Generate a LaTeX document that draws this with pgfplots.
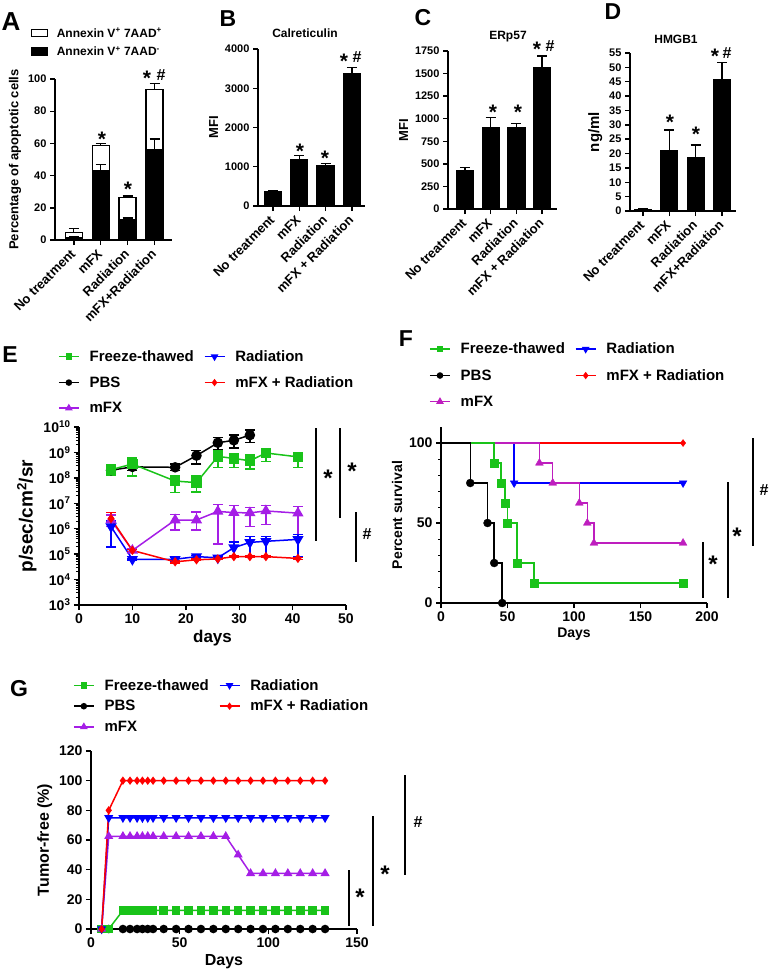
\documentclass[border=0pt]{standalone}
\usepackage{fontspec}
\setmainfont{Liberation Sans}
\usepackage{pgfplots}
\pgfplotsset{compat=1.18}
\definecolor{gpgreen}{RGB}{25,195,25}
\definecolor{gppurp}{RGB}{165,30,230}
\definecolor{gpmag}{RGB}{190,30,190}
\definecolor{gpblue}{RGB}{0,0,255}
\definecolor{gpred}{RGB}{255,0,0}
\newcommand{\fs}[1]{\fontsize{#1}{#1}\selectfont\bfseries}
\pgfplotsset{
 gp/.style={scale only axis, anchor=south west, axis x line*=bottom, axis y line*=left,
   tick align=outside, axis line style={line width=1.5pt},
   major tick style={line width=1.4pt, black}, minor tick style={line width=1pt, black},
   major tick length=5pt, minor tick length=3pt,
   /pgf/number format/assume math mode=true, /pgf/number format/1000 sep={},
   clip=false, tick label style={font=\fs{11}}, label style={font=\fs{13}}},
 bars/.style={gp, ybar, bar width=17pt, xtick={1,2,3,4}, ymin=0,
   xticklabel shift=6pt,
   xticklabel style={rotate=45, anchor=east, font=\fs{13}, inner sep=1pt},
   error bars/y dir=plus, error bars/y explicit,
   error bars/error bar style={line width=1.3pt, black},
   error bars/error mark options={rotate=90, mark size=5pt, line width=1.3pt, black}},
 lines/.style={gp, tick label style={font=\fs{14}},
   legend columns=2, legend cell align=left,
   legend image code/.code={\draw[mark repeat=2, mark phase=2, ##1] plot coordinates {(0pt,0pt) (10pt,0pt) (20pt,0pt)};},
   legend style={draw=none, fill=none, font=\fs{15}, inner sep=0pt, nodes={inner sep=2pt},
     /tikz/every even column/.append style={column sep=8pt},
     /tikz/every odd column/.append style={column sep=8pt}},
   error bars/error bar style={line width=1.4pt},
   error bars/error mark options={rotate=90, mark size=5pt, line width=1.4pt}},
}
\tikzset{star/.style={font=\fs{21}, inner sep=0pt, yshift=-4.5pt},
  hash/.style={font=\fs{16}, inner sep=0pt},
  panel/.style={font=\fs{23}, inner sep=0pt}}
\begin{document}
\begin{tikzpicture}
\path[use as bounding box] (0pt,0pt) rectangle (769pt,-975pt);

% ---------------- A
\begin{axis}[bars, at={(55pt,-240pt)}, width=117pt, height=161pt,
  xmin=0.3, xmax=4.65, ymax=100, ytick={0,20,...,100},
  xticklabels={No treatment, mFX, Radiation, mFX+Radiation},
  ylabel={Percentage of apoptotic cells},
  legend cell align=left,
  legend style={at={(-0.21,1.33)}, anchor=north west, draw=none, fill=none, font=\fs{12}, row sep=4pt, inner sep=0pt, nodes={inner sep=2pt},
    /tikz/every odd column/.append style={column sep=7pt}}]
\addlegendimage{legend image code/.code={\draw[draw=black, fill=white, line width=1.2pt] (0pt,-3.5pt) rectangle (16pt,4pt);}}
\addlegendentry{Annexin V\textsuperscript{+} 7AAD\textsuperscript{+}}
\addlegendimage{legend image code/.code={\draw[draw=black, fill=black, line width=1.2pt] (0pt,-3.5pt) rectangle (16pt,4pt);}}
\addlegendentry{Annexin V\textsuperscript{+} 7AAD\textsuperscript{-}}
\addplot[fill=white, draw=black, line width=1.3pt, bar shift=0pt, forget plot] coordinates
  {(1,4.5) +- (0,2.8) (2,58.6) +- (0,1.5) (3,26.4) +- (0,1) (4,93.6) +- (0,3.6)};
\addplot[fill=black, draw=black, line width=1.3pt, bar shift=0pt, forget plot] coordinates
  {(1,1.2) +- (0,0.6) (2,43) +- (0,4) (3,12.6) +- (0,1) (4,56.3) +- (0,6.4)};
\end{axis}

% ---------------- B
\begin{axis}[bars, at={(258pt,-206pt)}, width=107pt, height=157pt,
  xmin=0.43, xmax=4.5, ymax=4000, ytick={0,1000,...,4000},
  xticklabels={No treatment, mFX, Radiation, mFX + Radiation},
  ylabel={MFI}]
\addplot[fill=black, draw=black, line width=1.3pt, bar shift=0pt] coordinates
  {(1,360) +- (0,40) (2,1190) +- (0,100) (3,1020) +- (0,65) (4,3365) +- (0,170)};
\end{axis}

% ---------------- C
\begin{axis}[bars, at={(448pt,-209pt)}, width=109pt, height=158pt,
  xmin=0.34, xmax=4.58, ymax=1750, ytick={0,250,...,1750},
  xticklabels={No treatment, mFX, Radiation, mFX + Radiation},
  ylabel={MFI}]
\addplot[fill=black, draw=black, line width=1.3pt, bar shift=0pt] coordinates
  {(1,420) +- (0,38) (2,900) +- (0,115) (3,905) +- (0,45) (4,1565) +- (0,130)};
\end{axis}

% ---------------- D
\begin{axis}[bars, at={(630pt,-211pt)}, width=106pt, height=158pt,
  xmin=0.51, xmax=4.53, ymax=55, ytick={0,5,...,55},
  xticklabels={No treatment, mFX, Radiation, mFX+Radiation},
  ylabel={ng/ml}, ylabel style={font=\fs{15}}]
\addplot[fill=black, draw=black, line width=1.3pt, bar shift=0pt] coordinates
  {(1,0.6) +- (0,0.15) (2,21) +- (0,7.2) (3,18.7) +- (0,4.3) (4,45.8) +- (0,5.9)};
\end{axis}

% ---------------- E
\begin{axis}[lines, at={(79pt,-605pt)}, width=267pt, height=178pt,
  ymode=log, ymin=1e3, ymax=1e10, xmin=0, xmax=50, xtick={0,10,...,50},
  ytick={1e3,1e4,1e5,1e6,1e7,1e8,1e9,1e10},
  yticklabels={10\textsuperscript{3},10\textsuperscript{4},10\textsuperscript{5},10\textsuperscript{6},10\textsuperscript{7},10\textsuperscript{8},10\textsuperscript{9},10\textsuperscript{10}},
  xlabel={days}, ylabel={p/sec/cm\textsuperscript{2}/sr},
  xlabel style={font=\fs{17}}, ylabel style={font=\fs{19}},
  legend style={at={(-0.079,1.442)}, anchor=north west, row sep=9.5pt},
  error bars/y dir=both, error bars/y explicit]
\addlegendimage{gpgreen, line width=1.5pt, mark=square*, mark size=2.5pt}
\addlegendentry{Freeze-thawed}
\addlegendimage{gpblue, line width=1.5pt, mark=triangle*, mark size=3pt, mark options={rotate=180}}
\addlegendentry{Radiation}
\addlegendimage{black, line width=1.5pt, mark=*, mark size=2.5pt}
\addlegendentry{PBS}
\addlegendimage{gpred, line width=1.5pt, mark=diamond*, mark size=2.5pt}
\addlegendentry{mFX + Radiation}
\addlegendimage{gppurp, line width=1.5pt, mark=triangle*, mark size=3pt}
\addlegendentry{mFX}
\addplot[black, line width=1.5pt, mark=*, mark size=4.5pt, forget plot] table[x=d, y=v, y error plus=ep, y error minus=em] {
d v ep em
6 2e8 0.5e8 0.5e8
10 2.7e8 1e8 0.8e8
18 2.6e8 0.9e8 0.6e8
22 7.5e8 4.5e8 4e8
26 2.4e9 1.5e9 1.1e9
29 3e9 1.8e9 1.5e9
32 4.8e9 2.7e9 2.3e9
};
\addplot[gpgreen, line width=1.5pt, mark=square*, mark size=4.5pt, forget plot] table[x=d, y=v, y error plus=ep, y error minus=em] {
d v ep em
6 2.1e8 0.7e8 0.8e8
10 3.5e8 2.5e8 2.3e8
18 7.5e7 4.5e7 4.9e7
22 6.5e7 5.5e7 3.7e7
26 7e8 5e8 4.5e8
29 5.8e8 3.2e8 3.3e8
32 4.7e8 3.3e8 2.5e8
35 9.5e8 3.5e8 5e8
41 6.7e8 2.8e8 4.2e8
};
\addplot[gppurp, line width=1.5pt, mark=triangle*, mark size=5pt, forget plot] table[x=d, y=v, y error plus=ep, y error minus=em] {
d v ep em
6 2.2e6 1.3e6 1e6
10 1.4e5 0.2e5 0.2e5
18 2.2e6 1.4e6 1.3e6
22 2.2e6 2.3e6 1.3e6
26 4.8e6 4.2e6 4.55e6
29 4.3e6 3.7e6 4e6
32 4.2e6 2.8e6 3e6
35 5e6 3e6 3.5e6
41 4.1e6 3.4e6 3.6e6
};
\addplot[gpblue, line width=1.5pt, mark=triangle*, mark size=5pt, mark options={rotate=180}, forget plot] table[x=d, y=v, y error plus=ep, y error minus=em] {
d v ep em
6 1.2e6 0.8e6 1.01e6
10 6.3e4 0.5e4 0.5e4
18 6.3e4 1.5e4 1e4
22 8e4 1e4 1e4
26 7.2e4 1e4 1e4
29 1.8e5 1.2e5 1e5
32 2.9e5 2e5 2.1e5
35 3.2e5 1.8e5 2.4e5
41 3.8e5 2e5 3e5
};
\addplot[gpred, line width=1.5pt, mark=diamond*, mark size=3.5pt, forget plot] table[x=d, y=v, y error plus=ep, y error minus=em] {
d v ep em
6 2.5e6 1.8e6 1e6
10 1.4e5 0.1e5 0.1e5
18 5e4 0.5e4 0.5e4
22 6e4 0.5e4 0.5e4
26 6.5e4 0.5e4 0.5e4
29 8e4 0.5e4 0.5e4
32 8e4 0.5e4 0.5e4
35 8e4 0.5e4 0.5e4
41 6.8e4 0.5e4 0.5e4
};
\end{axis}

% ---------------- F
\begin{axis}[lines, at={(441pt,-603pt)}, width=266pt, height=176pt,
  xmin=0, xmax=200, ymin=0, ymax=110, xtick={0,50,...,200}, ytick={0,50,100},
  minor y tick num=4, xlabel={Days}, ylabel={Percent survival},
  label style={font=\fs{14}},
  legend style={at={(-0.045,1.49)}, anchor=north west, row sep=10pt}]
\addlegendimage{gpgreen, line width=1.5pt, mark=square*, mark size=2.5pt}
\addlegendentry{Freeze-thawed}
\addlegendimage{gpblue, line width=1.5pt, mark=triangle*, mark size=3pt, mark options={rotate=180}}
\addlegendentry{Radiation}
\addlegendimage{black, line width=1.5pt, mark=*, mark size=2.5pt}
\addlegendentry{PBS}
\addlegendimage{gpred, line width=1.5pt, mark=diamond*, mark size=2.5pt}
\addlegendentry{mFX + Radiation}
\addlegendimage{gpmag, line width=1.5pt, mark=triangle*, mark size=3pt}
\addlegendentry{mFX}
\addplot[gpred, line width=1.5pt, const plot, forget plot] coordinates {(0,100) (182,100)};
\addplot[gpred, only marks, mark=diamond*, mark size=3.5pt, forget plot] coordinates {(182,100)};
\addplot[gpblue, line width=1.5pt, const plot, forget plot] coordinates {(0,100) (55,75) (182,75)};
\addplot[gpblue, only marks, mark=triangle*, mark size=4.5pt, mark options={rotate=180}, forget plot] coordinates {(55,75) (182,75)};
\addplot[gpmag, line width=1.5pt, const plot, forget plot] coordinates {(0,100) (74,87.5) (84,75) (104,62.5) (110,50) (115,37.5) (182,37.5)};
\addplot[gpmag, only marks, mark=triangle*, mark size=4.5pt, forget plot] coordinates {(74,87.5) (84,75) (104,62.5) (110,50) (115,37.5) (182,37.5)};
\addplot[gpgreen, line width=1.5pt, const plot, forget plot] coordinates {(0,100) (40,87.5) (45,75) (48,62.5) (50,50) (57,25) (70,12.5) (182,12.5)};
\addplot[gpgreen, only marks, mark=square*, mark size=4pt, forget plot] coordinates {(40,87.5) (45,75) (48,62.5) (50,50) (57,25) (70,12.5) (182,12.5)};
\addplot[black, line width=1.5pt, const plot, forget plot] coordinates {(0,100) (22,75) (35,50) (40,25) (46,0)};
\addplot[black, only marks, mark=*, mark size=4pt, forget plot] coordinates {(22,75) (35,50) (40,25) (46,0)};
\end{axis}

% ---------------- G
\begin{axis}[lines, at={(91pt,-929pt)}, width=266pt, height=178pt,
  xmin=0, xmax=150, ymin=0, ymax=120, xtick={0,50,100,150}, ytick={0,20,...,120},
  xlabel={Days}, ylabel={Tumor-free (\%)}, label style={font=\fs{16}},
  legend style={at={(-0.068,1.416)}, anchor=north west, row sep=4.5pt}]
\addlegendimage{gpgreen, line width=1.5pt, mark=square*, mark size=2.5pt}
\addlegendentry{Freeze-thawed}
\addlegendimage{gpblue, line width=1.5pt, mark=triangle*, mark size=3pt, mark options={rotate=180}}
\addlegendentry{Radiation}
\addlegendimage{black, line width=1.5pt, mark=*, mark size=2.5pt}
\addlegendentry{PBS}
\addlegendimage{gpred, line width=1.5pt, mark=diamond*, mark size=2.5pt}
\addlegendentry{mFX + Radiation}
\addlegendimage{gppurp, line width=1.5pt, mark=triangle*, mark size=3pt}
\addlegendentry{mFX}
\addplot[black, line width=1.5pt, mark=*, mark size=3.5pt, forget plot] coordinates {
(6,0)(10,0)(18,0)(22,0)(26,0)(29,0)(32,0)(35,0)(41,0)(48,0)(55,0)(62,0)(69,0)(76,0)(83,0)(90,0)(97,0)(104,0)(111,0)(118,0)(125,0)(132,0)};
\addplot[gpgreen, line width=1.5pt, mark=square*, mark size=3.5pt, forget plot] coordinates {
(6,0)(10,0)(18,12.5)(20,12.5)(22,12.5)(24,12.5)(26,12.5)(28,12.5)(29,12.5)(30,12.5)(32,12.5)(34,12.5)(35,12.5)(41,12.5)(48,12.5)(55,12.5)(62,12.5)(69,12.5)(76,12.5)(83,12.5)(90,12.5)(97,12.5)(104,12.5)(111,12.5)(118,12.5)(125,12.5)(132,12.5)};
\addplot[gppurp, line width=1.5pt, mark=triangle*, mark size=3.8pt, forget plot] coordinates {
(6,0)(10,62.5)(18,62.5)(22,62.5)(26,62.5)(29,62.5)(32,62.5)(35,62.5)(41,62.5)(48,62.5)(55,62.5)(62,62.5)(69,62.5)(76,62.5)(83,50)(90,37.5)(97,37.5)(104,37.5)(111,37.5)(118,37.5)(125,37.5)(132,37.5)};
\addplot[gpblue, line width=1.5pt, mark=triangle*, mark size=3.8pt, mark options={rotate=180}, forget plot] coordinates {
(6,0)(10,75)(18,75)(22,75)(26,75)(29,75)(32,75)(35,75)(41,75)(48,75)(55,75)(62,75)(69,75)(76,75)(83,75)(90,75)(97,75)(104,75)(111,75)(118,75)(125,75)(132,75)};
\addplot[gpred, line width=1.5pt, mark=diamond*, mark size=3pt, forget plot] coordinates {
(6,0)(10,80)(18,100)(22,100)(26,100)(29,100)(32,100)(35,100)(41,100)(48,100)(55,100)(62,100)(69,100)(76,100)(83,100)(90,100)(97,100)(104,100)(111,100)(118,100)(125,100)(132,100)};
\end{axis}

% ---------------- annotations (pixel coordinates)
\begin{scope}[x=1pt, y=-1pt]
\node[panel, font=\fs{26}] at (11,22) {A};
\node[panel] at (228,19) {B};
\node[panel] at (423,18) {C};
\node[panel] at (613,12) {D};
\node[panel] at (10,355) {E};
\node[panel] at (406,339) {F};
\node[panel] at (19,689) {G};
\node[font=\fs{12}] at (305,33) {Calreticulin};
\node[font=\fs{12}] at (508,37) {ERp57};
\node[font=\fs{12}] at (676,39) {HMGB1};
% stars
\node[star] at (102,135) {*};
\node[star] at (128,185) {*};
\node[star] at (147,74) {*};
\node[hash] at (161,75) {\#};
\node[star] at (300,147) {*};
\node[star] at (325,154) {*};
\node[star] at (344,57) {*};
\node[hash] at (357,57) {\#};
\node[star] at (493,108) {*};
\node[star] at (518,108) {*};
\node[star] at (537,45) {*};
\node[hash] at (550,46) {\#};
\node[star] at (670,118) {*};
\node[star] at (696,130) {*};
\node[star] at (715,52) {*};
\node[hash] at (727,53) {\#};
% E significance
\draw[line width=2pt] (316,428) -- (316,541);
\draw[line width=2pt] (340,428) -- (340,518);
\draw[line width=2pt] (356,512) -- (356,562);
\node[star, font=\fs{24}] at (328,474) {*};
\node[star, font=\fs{24}] at (352,467) {*};
\node[hash] at (367,534) {\#};
% F significance
\draw[line width=2pt] (703,542) -- (703,598);
\draw[line width=2pt] (728,482) -- (728,598);
\draw[line width=2pt] (753,438) -- (753,546);
\node[star, font=\fs{24}] at (713,560) {*};
\node[star, font=\fs{24}] at (737,532) {*};
\node[hash] at (764,490) {\#};
% G significance
\draw[line width=2pt] (349,870) -- (349,926);
\draw[line width=2pt] (373,816) -- (373,926);
\draw[line width=2pt] (405,775) -- (405,875);
\node[star, font=\fs{24}] at (360,893) {*};
\node[star, font=\fs{24}] at (385,870) {*};
\node[hash] at (418,822) {\#};
\end{scope}
\end{tikzpicture}
\end{document}
